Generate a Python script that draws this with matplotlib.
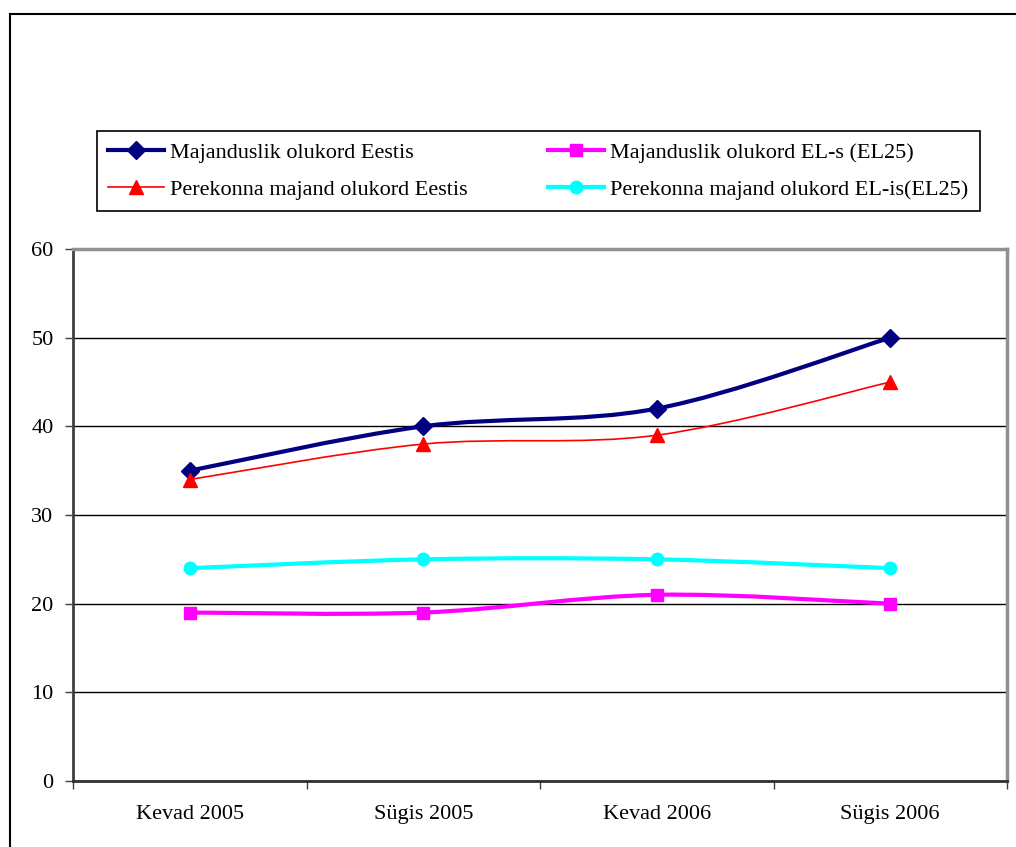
import numpy as np
import matplotlib
matplotlib.use("Agg")
import matplotlib.pyplot as plt
from matplotlib.path import Path
from matplotlib.patches import PathPatch
from matplotlib.lines import Line2D

plt.rcParams['font.family'] = ['Liberation Serif', 'DejaVu Serif']

categories = ["Kevad 2005", "Sügis 2005", "Kevad 2006", "Sügis 2006"]
maj_eestis = [35, 40, 42, 50]
maj_el = [19, 19, 21, 20]
pere_eestis = [34, 38, 39, 45]
pere_el = [24, 25, 25, 24]

series = [
    ("Majanduslik olukord Eestis", maj_eestis, "#000080", 3.0, "D", 9),
    ("Perekonna majand olukord Eestis", pere_eestis, "#FF0000", 1.2, "^", 10),
    ("Majanduslik olukord EL-s (EL25)", maj_el, "#FF00FF", 3.0, "s", 8),
    ("Perekonna majand olukord EL-is(EL25)", pere_el, "#00FFFF", 3.0, "o", 9),
]


def smooth_path(x, y):
    # excel style smoothed line: bezier segments through the points
    pts = np.column_stack([x, y]).astype(float)
    n = len(pts)
    verts = [pts[0]]
    codes = [Path.MOVETO]
    for i in range(n - 1):
        p0 = pts[i - 1] if i > 0 else pts[i]
        p1 = pts[i]
        p2 = pts[i + 1]
        p3 = pts[i + 2] if i + 2 < n else pts[i + 1]
        verts += [p1 + (p2 - p0) / 6, p2 - (p3 - p1) / 6, p2]
        codes += [Path.CURVE4] * 3
    return Path(verts, codes)


fig = plt.figure(figsize=(10.16, 8.47), dpi=100)
ax = fig.add_axes([73 / 1016, 1 - 781 / 847, (1007 - 73) / 1016, (781 - 249) / 847])

x = np.arange(len(categories))
handles = []
for label, vals, color, lw, marker, ms in series:
    ax.add_patch(PathPatch(smooth_path(x, vals), facecolor="none", edgecolor=color,
                           lw=lw, zorder=3, capstyle="round", joinstyle="round"))
    ax.plot(x, vals, linestyle="none", marker=marker, ms=ms, color=color, zorder=4)
    handles.append(Line2D([], [], color=color, lw=lw, marker=marker, ms=ms, label=label))

ax.set_xlim(-0.5, len(categories) - 0.5)
ax.set_ylim(0, 60)
ax.set_yticks(range(0, 61, 10))
ax.yaxis.grid(True, color="black", lw=1.0)
ax.set_axisbelow(True)

ax.set_xticks(np.arange(-0.5, len(categories), 1.0))
ax.set_xticklabels([])
ax.set_xticks(x, minor=True)
ax.set_xticklabels(categories, minor=True)
ax.tick_params(axis="x", which="major", direction="out", length=6, width=1, color="#404040")
ax.tick_params(axis="x", which="minor", length=0, pad=17, labelsize=16)
ax.tick_params(axis="y", direction="out", length=6, width=1, color="#404040", pad=8, labelsize=16)

ax.spines["left"].set_color("#404040")
ax.spines["left"].set_linewidth(2)
ax.spines["bottom"].set_color("#303030")
ax.spines["bottom"].set_linewidth(2)
ax.spines["top"].set_color("#909090")
ax.spines["top"].set_linewidth(2.5)
ax.spines["right"].set_color("#909090")
ax.spines["right"].set_linewidth(2.5)

leg = fig.legend(handles=handles, ncol=2, loc="upper left",
                 bbox_to_anchor=(97 / 1016, 1 - 131 / 847), fontsize=16,
                 frameon=True, fancybox=False, edgecolor="black", framealpha=1,
                 handlelength=2.5, handletextpad=0.3, columnspacing=3.6,
                 labelspacing=0.75, borderpad=0.5, borderaxespad=0)
leg.get_frame().set_linewidth(1.2)

# outer chart border
fig.add_artist(Line2D([10 / 1016, 1.0], [1 - 14 / 847, 1 - 14 / 847], color="black", lw=1.5,
                      transform=fig.transFigure))
fig.add_artist(Line2D([10 / 1016, 10 / 1016], [1 - 14 / 847, 0.0], color="black", lw=1.5,
                      transform=fig.transFigure))

fig.savefig("out.png", dpi=100)
